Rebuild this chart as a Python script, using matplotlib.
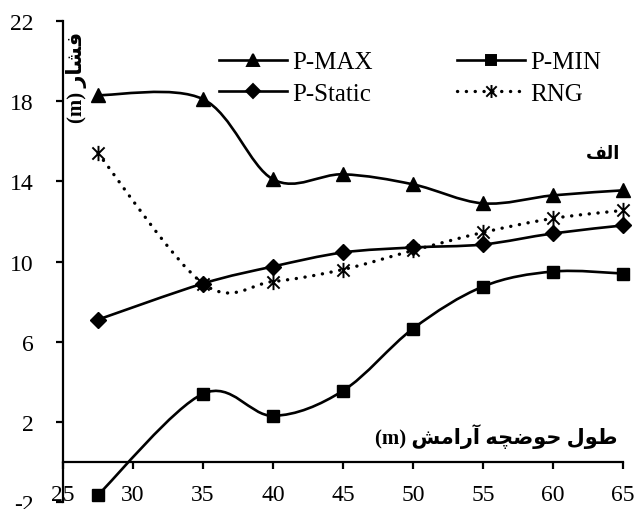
import numpy as np
import matplotlib
matplotlib.use('Agg')
import matplotlib.pyplot as plt
from matplotlib.path import Path
from matplotlib.patches import PathPatch
from matplotlib.lines import Line2D

# data
length = [27.5, 35, 40, 45, 50, 55, 60, 65]
p_max = [18.3, 18.1, 14.1, 14.35, 13.85, 12.9, 13.3, 13.55]
p_min = [-1.65, 3.4, 2.3, 3.55, 6.65, 8.75, 9.5, 9.4]
p_static = [7.1, 8.9, 9.75, 10.45, 10.7, 10.85, 11.4, 11.8]
rng = [15.4, 8.9, 9.0, 9.6, 10.55, 11.45, 12.15, 12.55]

x_ticks = [25, 30, 35, 40, 45, 50, 55, 60, 65]
y_ticks = [-2, 2, 6, 10, 14, 18, 22]

# persian labels, already shaped (presentation forms, visual order)
txt_alef = '\uFED2\uFEDF\uFE8D'
txt_xlabel = '(m) \uFEB6\uFEE3\uFE8D\uFEAD\uFE81 \uFEEA\uFB7D\uFEBF\uFEEE\uFEA3 \uFEDD\uFEEE\uFEC3'
txt_ylabel = '(m) \uFEAD\uFE8E\uFEB8\uFED3'

serif = 'Liberation Serif'
mixed = ['Liberation Serif', 'DejaVu Sans']
plt.rcParams['axes.unicode_minus'] = False


def smooth_path(x, y):
	# excel like smoothed line: bezier segments with catmull-rom tangents
	pts = np.column_stack([x, y]).astype(float)
	n = len(pts)
	verts = [pts[0]]
	codes = [Path.MOVETO]
	for i in range(n - 1):
		p0 = pts[max(i - 1, 0)]
		p1 = pts[i]
		p2 = pts[i + 1]
		p3 = pts[min(i + 2, n - 1)]
		verts += [p1 + (p2 - p0) / 6., p2 - (p3 - p1) / 6., p2]
		codes += [Path.CURVE4] * 3
	return Path(verts, codes)
# end def


star = Path([(0, -1), (0, 1), (-0.8, -0.8), (0.8, 0.8), (-0.8, 0.8), (0.8, -0.8)],
			[Path.MOVETO, Path.LINETO, Path.MOVETO, Path.LINETO, Path.MOVETO, Path.LINETO])

lw = 1.9
dots = (0, (0.05, 2.6))
series = [
	(p_max, 'P-MAX', '^', 10, '-', lw),
	(p_min, 'P-MIN', 's', 9, '-', lw),
	(p_static, 'P-Static', 'D', 8, '-', lw),
	(rng, 'RNG', star, 11, dots, 2.4),
]

fig = plt.figure(figsize=(6.43, 5.10), dpi=100)
ax = fig.add_axes([63 / 643., 1 - 503 / 510., 560 / 643., 481 / 510.])

handles = {}
for vals, name, mk, ms, ls, w in series:
	patch = PathPatch(smooth_path(length, vals), facecolor='none', edgecolor='black',
					  linewidth=w, linestyle=ls, capstyle='round', zorder=2)
	ax.add_patch(patch)
	if mk is star:
		ax.plot(length, vals, linestyle='none', marker=mk, markersize=ms, markerfacecolor='none',
				markeredgecolor='black', markeredgewidth=1.4, clip_on=False, zorder=3)
	else:
		ax.plot(length, vals, linestyle='none', marker=mk, markersize=ms, color='black',
				clip_on=False, zorder=3)
	# end if
	handles[name] = Line2D([], [], color='black', linewidth=w, linestyle=ls, marker=mk,
						   markersize=ms * 0.85, markerfacecolor='black' if mk is not star else 'none',
						   markeredgecolor='black', markeredgewidth=1.4, dash_capstyle='round')
# end for

ax.set_xlim(25, 65)
ax.set_ylim(-2, 22)
ax.set_xticks(x_ticks)
ax.set_yticks(y_ticks)

for s in ['top', 'right']:
	ax.spines[s].set_visible(False)
ax.spines['bottom'].set_position(('data', 0))
ax.spines['left'].set_linewidth(1.6)
ax.spines['bottom'].set_linewidth(1.6)
ax.tick_params(direction='out', length=5, width=1.6, labelsize=17)
ax.tick_params(axis='x', pad=11)
ax.tick_params(axis='y', pad=16)
for lab in ax.get_xticklabels() + ax.get_yticklabels():
	lab.set_family(serif)

# ncol fills column by column, so order is col 1 then col 2
order = ['P-MAX', 'P-Static', 'P-MIN', 'RNG']
leg = ax.legend([handles[k] for k in order], order, ncol=2, frameon=False,
				loc='upper left', bbox_to_anchor=(0.279, 0.938), borderpad=0, borderaxespad=0,
				handlelength=2.7, handletextpad=0.2, columnspacing=3.4, labelspacing=0.35,
				numpoints=1, prop={'family': serif, 'size': 18})

# persian annotations
ax.text(0.995, 0.725, txt_alef, transform=ax.transAxes, ha='right', va='center',
		family=mixed, fontweight='bold', fontsize=13)
ax.text(0.99, 0.139, txt_xlabel, transform=ax.transAxes, ha='right', va='center',
		family=mixed, fontweight='bold', fontsize=15)
ax.text(0.024, 0.979, txt_ylabel, transform=ax.transAxes, ha='center', va='top',
		rotation=90, family=mixed, fontweight='bold', fontsize=15)

fig.savefig('out.png', dpi=100)
